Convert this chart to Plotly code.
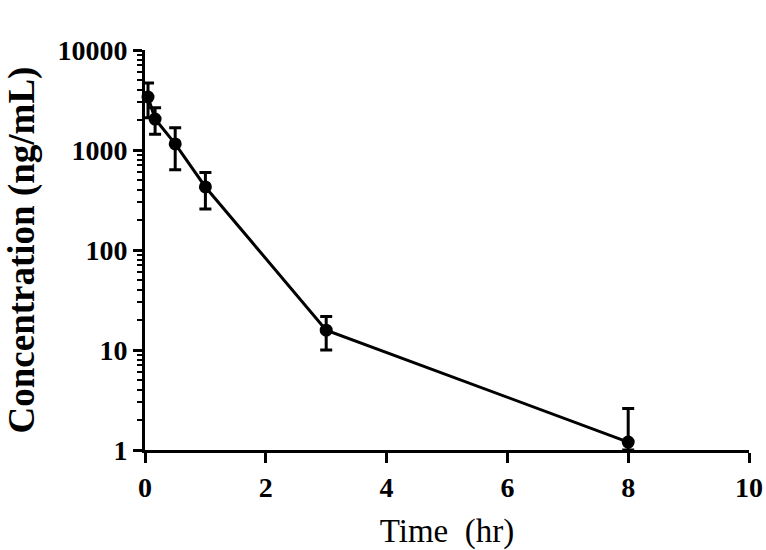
import plotly.graph_objects as go

time_hr = [0.05, 0.167, 0.5, 1, 3, 8]
conc_mean = [3390, 2040, 1150, 427, 15.8, 1.2]
sd_plus = [1290, 600, 515, 170, 5.8, 1.4]
sd_minus = [1290, 600, 515, 170, 5.8, 0.2]

x_ticks = [0, 2, 4, 6, 8, 10]
y_ticks = [1, 10, 100, 1000, 10000]
y_ticklabels = ["1", "10", "100", "1000", "10000"]

fig = go.Figure()
fig.add_trace(go.Scatter(
    x=time_hr, y=conc_mean, mode="lines+markers",
    line=dict(color="black", width=3),
    marker=dict(color="black", size=13),
    error_y=dict(type="data", symmetric=False, array=sd_plus, arrayminus=sd_minus,
                 color="black", thickness=3, width=6),
    cliponaxis=False, showlegend=False,
))

font_family = "Liberation Serif, Times New Roman, serif"
fig.update_layout(
    width=766, height=550,
    margin=dict(l=145, r=17, t=50, b=100),
    plot_bgcolor="white", paper_bgcolor="white",
    font=dict(family=font_family, color="black"),
    xaxis=dict(
        range=[0, 10], tickvals=x_ticks, ticktext=[f"<b>{v}</b>" for v in x_ticks],
        showline=True, linecolor="black", linewidth=3, showgrid=False, zeroline=False,
        ticks="outside", ticklen=10, tickwidth=3, tickcolor="black", automargin=False,
        tickfont=dict(size=28, family=font_family, color="black"),
        title=dict(text="Time  (hr)", font=dict(size=33, family=font_family, color="black"), standoff=20),
    ),
    yaxis=dict(
        type="log", range=[0, 4], tickvals=y_ticks, ticktext=[f"<b>{t}</b>" for t in y_ticklabels],
        showline=True, linecolor="black", linewidth=3, showgrid=False, zeroline=False,
        ticks="outside", ticklen=9, tickwidth=3, tickcolor="black", automargin=False,
        minor=dict(ticks="outside", ticklen=5, tickwidth=2, tickcolor="black", showgrid=False, dtick="D1"),
        tickfont=dict(size=28, family=font_family, color="black"),
        title=dict(text="<b>Concentration (ng/mL)</b>", font=dict(size=37, family=font_family, color="black"), standoff=12),
    ),
)

fig.write_html("out.html", config={"displayModeBar": False},
               post_script="document.body.style.margin='0';document.body.style.padding='0';")
